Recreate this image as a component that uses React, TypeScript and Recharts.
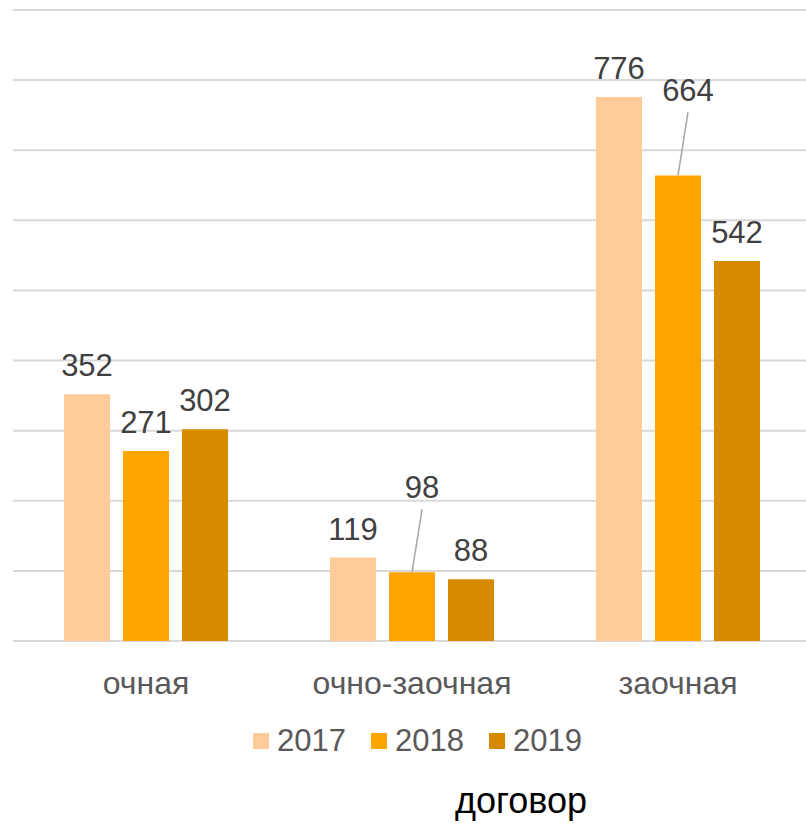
import React from 'react';
import { BarChart, Bar, XAxis, YAxis, CartesianGrid, LabelList } from 'recharts';

const categories = ['очная', 'очно-заочная', 'заочная'];
const years = ['2017', '2018', '2019'];
const values2017 = [352, 119, 776];
const values2018 = [271, 98, 664];
const values2019 = [302, 88, 542];
const yTicks = [0, 100, 200, 300, 400, 500, 600, 700, 800, 900];

const colors = ['#FFCC99', '#FFA500', '#D68A00'];
// labels that Excel pushed up and tied back to the bar with a leader line
const leaderLabels: Record<string, boolean> = {
  '2018-1': true,
  '2018-2': true,
};

const data = categories.map((name, i) => ({
  name,
  '2017': values2017[i],
  '2018': values2018[i],
  '2019': values2019[i],
}));

const FONT = '"Liberation Sans", Arial, sans-serif';

const makeLabel = (year: string) => (props: any) => {
  const { x, y, width, value, index } = props;
  const cx = x + width / 2;
  if (leaderLabels[`${year}-${index}`]) {
    const tx = cx + 10;
    const ty = y - 74;
    return (
      <g>
        <line x1={tx} y1={ty + 11} x2={cx} y2={y} stroke="#A6A6A6" strokeWidth={1.5} />
        <text x={tx} y={ty} textAnchor="middle" fontSize={31} fill="#404040" fontFamily={FONT}>
          {value}
        </text>
      </g>
    );
  }
  return (
    <text x={cx} y={y - 18} textAnchor="middle" fontSize={31} fill="#404040" fontFamily={FONT}>
      {value}
    </text>
  );
};

const CategoryTick = (props: any) => {
  const { x, y, payload } = props;
  return (
    <text x={x} y={y} dy={53} textAnchor="middle" fontSize={32} fill="#595959" fontFamily={FONT}>
      {payload.value}
    </text>
  );
};

const App = () => {
  return (
    <div
      style={{
        position: 'absolute',
        left: 0,
        top: 0,
        width: 806,
        height: 824,
        overflow: 'hidden',
        background: '#fff',
        fontFamily: FONT,
      }}
    >
      <BarChart
        width={812}
        height={824}
        data={data}
        margin={{ top: 10, right: 1, bottom: 0, left: 13 }}
        barSize={46}
        barGap={13}
      >
        <CartesianGrid vertical={false} stroke="#D9D9D9" strokeWidth={2} />
        <YAxis hide domain={[0, 900]} ticks={yTicks} />
        <XAxis
          dataKey="name"
          height={183}
          axisLine={false}
          tickLine={false}
          tickSize={0}
          tickMargin={0}
          interval={0}
          tick={<CategoryTick />}
        />
        {years.map((year, i) => (
          <Bar key={year} dataKey={year} fill={colors[i]} isAnimationActive={false}>
            <LabelList dataKey={year} content={makeLabel(year)} />
          </Bar>
        ))}
      </BarChart>

      <div
        style={{
          position: 'absolute',
          left: 253,
          top: 724,
          display: 'flex',
          alignItems: 'center',
          gap: 25,
          fontSize: 31,
          color: '#595959',
          lineHeight: '34px',
        }}
      >
        {years.map((year, i) => (
          <div key={year} style={{ display: 'flex', alignItems: 'center' }}>
            <span style={{ width: 16, height: 16, background: colors[i], marginRight: 8, display: 'inline-block' }} />
            <span>{year}</span>
          </div>
        ))}
      </div>

      <div
        style={{
          position: 'absolute',
          left: 0,
          top: 780,
          width: 1042,
          textAlign: 'center',
          fontSize: 36,
          color: '#000',
          lineHeight: '42px',
        }}
      >
        договор
      </div>
    </div>
  );
};

export default App;
